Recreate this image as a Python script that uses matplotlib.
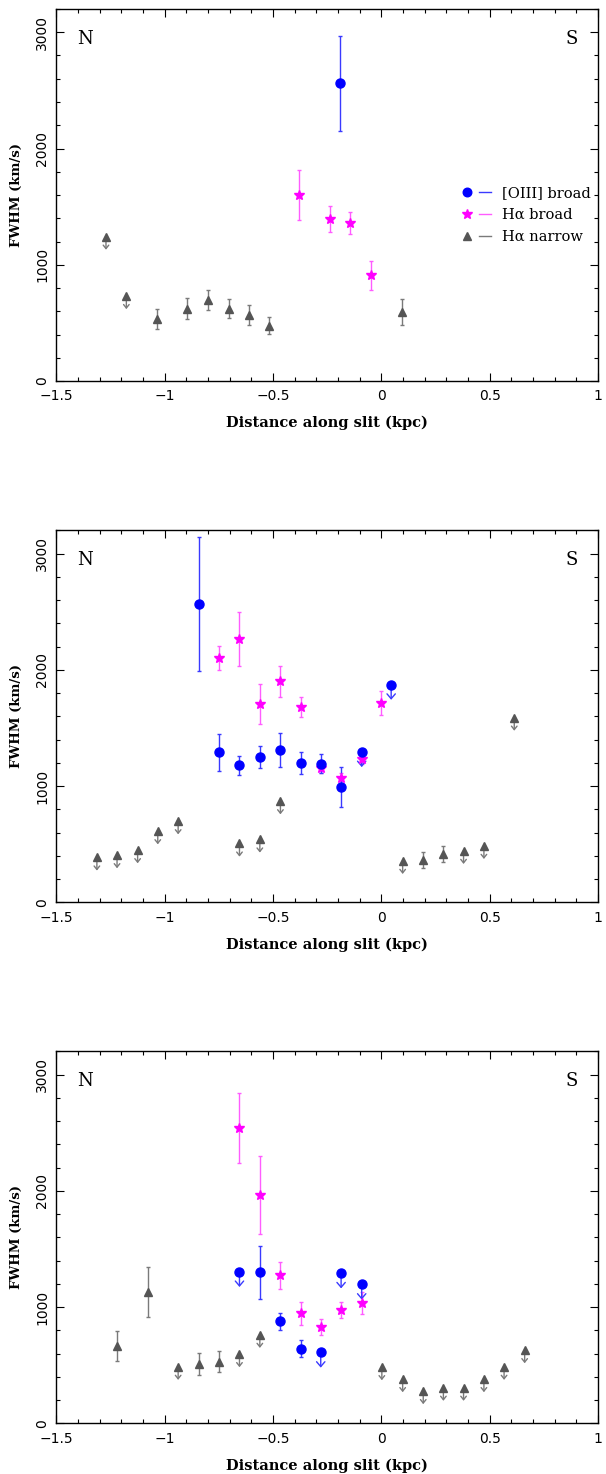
import numpy as np
import matplotlib
matplotlib.use("Agg")
import matplotlib.pyplot as plt
from matplotlib.lines import Line2D
from matplotlib.legend_handler import HandlerTuple
from matplotlib.transforms import ScaledTranslation
from matplotlib.ticker import MultipleLocator

# ---------------- data: slit 1 ----------------
p1_oiii_x = [-0.191]
p1_oiii_y = [2560]
p1_oiii_err = [410]
p1_oiii_lim = [False]

p1_hab_x = [-0.379, -0.237, -0.143, -0.050]
p1_hab_y = [1596, 1395, 1358, 910]
p1_hab_err = [215, 110, 95, 125]
p1_hab_lim = [False, False, False, False]

p1_han_x = [-1.271, -1.177, -1.036, -0.895, -0.800, -0.705, -0.613, -0.518, 0.093]
p1_han_y = [1243, 732, 531, 623, 698, 623, 568, 477, 594]
p1_han_err = [0, 0, 85, 90, 85, 80, 82, 72, 110]
p1_han_lim = [True, True, False, False, False, False, False, False, False]

# ---------------- data: slit 2 ----------------
p2_oiii_x = [-0.843, -0.750, -0.655, -0.561, -0.466, -0.373, -0.280, -0.186, -0.091, 0.045]
p2_oiii_y = [2567, 1292, 1178, 1249, 1309, 1198, 1192, 991, 1295, 1874]
p2_oiii_err = [580, 160, 80, 93, 145, 98, 82, 173, 0, 0]
p2_oiii_lim = [False, False, False, False, False, False, False, False, True, True]

p2_hab_x = [-0.750, -0.655, -0.561, -0.466, -0.373, -0.280, -0.186, -0.091, 0.000]
p2_hab_y = [2103, 2266, 1705, 1900, 1679, 1160, 1066, 1229, 1713]
p2_hab_err = [103, 233, 170, 135, 88, 46, 50, 40, 103]
p2_hab_lim = [False] * 9

p2_han_x = [-1.313, -1.220, -1.125, -1.032, -0.938, -0.655, -0.561, -0.466,
            0.098, 0.193, 0.286, 0.379, 0.473, 0.613]
p2_han_y = [387, 407, 450, 613, 699, 507, 542, 871, 358, 364, 415, 444, 487, 1590]
p2_han_err = [0, 0, 0, 0, 0, 0, 0, 0, 0, 68, 70, 0, 0, 0]
p2_han_lim = [True, True, True, True, True, True, True, True, True,
              False, False, True, True, True]

# ---------------- data: slit 3 ----------------
p3_oiii_x = [-0.655, -0.561, -0.466, -0.373, -0.280, -0.186, -0.091]
p3_oiii_y = [1304, 1298, 877, 642, 610, 1292, 1195]
p3_oiii_err = [0, 228, 72, 76, 0, 0, 0]
p3_oiii_lim = [True, False, False, False, True, True, True]

p3_hab_x = [-0.655, -0.561, -0.466, -0.373, -0.280, -0.186, -0.091]
p3_hab_y = [2541, 1962, 1272, 945, 828, 974, 1037]
p3_hab_err = [303, 334, 116, 98, 68, 66, 93]
p3_hab_lim = [False] * 7

p3_han_x = [-1.220, -1.079, -0.938, -0.843, -0.750, -0.655, -0.561,
            0.002, 0.098, 0.193, 0.286, 0.379, 0.473, 0.566, 0.661]
p3_han_y = [665, 1126, 487, 510, 530, 596, 762, 484, 381, 278, 307, 307, 381, 487, 630]
p3_han_err = [125, 215, 0, 93, 88, 0, 0, 0, 0, 0, 0, 0, 0, 0, 0]
p3_han_lim = [False, False, True, False, False, True, True,
              True, True, True, True, True, True, True, True]

x_ticks = [-1.5, -1, -0.5, 0, 0.5, 1]
x_ticklabels = ["\u22121.5", "\u22121", "\u22120.5", "0", "0.5", "1"]
y_ticks = [0, 1000, 2000, 3000]

legend_labels = ["[OIII] broad", "H\u03b1 broad", "H\u03b1 narrow"]

# ---------------- styles ----------------
BLUE, BLUE_ERR = "#0000ff", "#3a3aff"
MAG, MAG_ERR = "#ff00ff", "#ff5cff"
GRAY, GRAY_ERR = "#555555", "#7a7a7a"

series_style = {
    "oiii": dict(marker="o", ms=6.5, color=BLUE, ecolor=BLUE_ERR,
                 arrow_len=11.0, head="->, head_length=0.35, head_width=0.3"),
    "hab": dict(marker="*", ms=7.5, color=MAG, ecolor=MAG_ERR,
                arrow_len=9.0, head="->, head_length=0.3, head_width=0.25"),
    "han": dict(marker="^", ms=5.4, color=GRAY, ecolor=GRAY_ERR,
                arrow_len=9.5, head="->, head_length=0.25, head_width=0.2"),
}

SERIF = "DejaVu Serif"
SANS = "DejaVu Sans"

fig = plt.figure(figsize=(6.06, 14.74), dpi=100)

panel_bottoms = [0.7415, 0.3878, 0.0344]
ax_left, ax_width, ax_height = 0.093, 0.894, 0.2524


def draw_series(ax, xs, ys, errs, lims, style):
    xs = np.asarray(xs, float)
    ys = np.asarray(ys, float)
    errs = np.asarray(errs, float)
    lims = np.asarray(lims, bool)
    det = ~lims
    has_err = det & (errs > 0)
    if has_err.any():
        ax.errorbar(xs[has_err], ys[has_err], yerr=errs[has_err], fmt="none",
                    ecolor=style["ecolor"], elinewidth=1.0, capsize=1.6,
                    capthick=1.0, zorder=2)
    # down arrows for upper limits, length fixed in screen units
    down = ax.transData + ScaledTranslation(0, -style["arrow_len"] / 72.0,
                                            fig.dpi_scale_trans)
    for x, y in zip(xs[lims], ys[lims]):
        ax.annotate("", xy=(x, y), xycoords=down, xytext=(x, y),
                    textcoords="data",
                    arrowprops=dict(arrowstyle=style["head"],
                                    color=style["ecolor"], lw=1.0,
                                    shrinkA=0, shrinkB=0),
                    zorder=2)
    ax.plot(xs, ys, ls="none", marker=style["marker"], ms=style["ms"],
            color=style["color"], mec=style["color"], zorder=3)


panels = [
    ((p1_oiii_x, p1_oiii_y, p1_oiii_err, p1_oiii_lim),
     (p1_hab_x, p1_hab_y, p1_hab_err, p1_hab_lim),
     (p1_han_x, p1_han_y, p1_han_err, p1_han_lim)),
    ((p2_oiii_x, p2_oiii_y, p2_oiii_err, p2_oiii_lim),
     (p2_hab_x, p2_hab_y, p2_hab_err, p2_hab_lim),
     (p2_han_x, p2_han_y, p2_han_err, p2_han_lim)),
    ((p3_oiii_x, p3_oiii_y, p3_oiii_err, p3_oiii_lim),
     (p3_hab_x, p3_hab_y, p3_hab_err, p3_hab_lim),
     (p3_han_x, p3_han_y, p3_han_err, p3_han_lim)),
]

for i, (bottom, (oiii, hab, han)) in enumerate(zip(panel_bottoms, panels)):
    ax = fig.add_axes([ax_left, bottom, ax_width, ax_height])
    draw_series(ax, *han, series_style["han"])
    draw_series(ax, *hab, series_style["hab"])
    draw_series(ax, *oiii, series_style["oiii"])

    ax.set_xlim(-1.5, 1.0)
    ax.set_ylim(0, 3200)
    ax.set_xticks(x_ticks)
    ax.set_xticklabels(x_ticklabels, fontfamily=SANS, fontsize=10)
    ax.set_yticks(y_ticks)
    ax.set_yticklabels([str(v) for v in y_ticks], fontfamily=SANS,
                       fontsize=10, rotation=90, va="center")
    ax.xaxis.set_minor_locator(MultipleLocator(0.1))
    ax.yaxis.set_minor_locator(MultipleLocator(200))
    ax.tick_params(which="both", direction="in", top=True, right=True,
                   width=0.8, color="black")
    ax.tick_params(which="major", length=6)
    ax.tick_params(which="minor", length=3)
    ax.tick_params(axis="x", pad=6)
    ax.tick_params(axis="y", pad=5)
    for sp in ax.spines.values():
        sp.set_linewidth(1.0)

    ax.set_xlabel("Distance along slit (kpc)", fontfamily=SERIF,
                  fontsize=10.5, fontweight="bold", labelpad=9)
    ax.set_ylabel("FWHM (km/s)", fontfamily=SERIF, fontsize=9.5,
                  fontweight="bold", labelpad=9)

    ax.text(0.052, 0.92, "N", transform=ax.transAxes, fontfamily=SERIF,
            fontsize=13, ha="center", va="center")
    ax.text(0.951, 0.92, "S", transform=ax.transAxes, fontfamily=SERIF,
            fontsize=13, ha="center", va="center")

    if i == 0:
        handles = []
        for key in ("oiii", "hab", "han"):
            st = series_style[key]
            mk = Line2D([], [], ls="none", marker=st["marker"],
                        ms=st["ms"] * 0.95, color=st["color"])
            ln = Line2D([], [], color=st["ecolor"], lw=1.0)
            handles.append((mk, ln))
        ax.legend(handles, legend_labels,
                  handler_map={tuple: HandlerTuple(ndivide=None, pad=0.4)},
                  loc="upper left", bbox_to_anchor=(0.748, 0.525),
                  frameon=False, borderpad=0, borderaxespad=0,
                  handlelength=2.0, handletextpad=0.8, labelspacing=0.55,
                  prop=dict(family=SERIF, size=10.5))

fig.savefig("out.png", dpi=100)
